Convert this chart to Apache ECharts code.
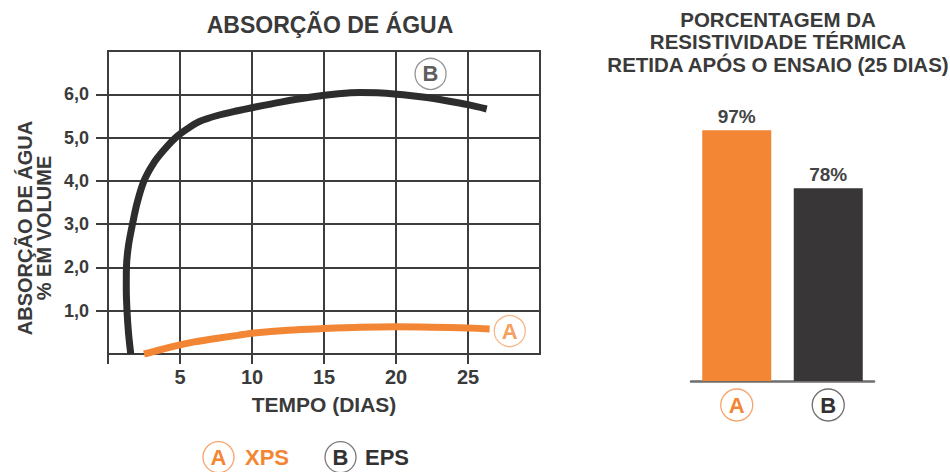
<!DOCTYPE html>
<html>
<head>
<meta charset="utf-8">
<script src="https://cdn.jsdelivr.net/npm/echarts@6/dist/echarts.min.js"></script>
<style>
  html, body { margin: 0; padding: 0; background: #ffffff; }
  #chart { width: 950px; height: 472px; }
</style>
</head>
<body>
<div id="chart"></div>
<script>
// Water absorption (% by volume) against time in days
const xpsDays = [2.5, 3.2, 4, 5, 6, 7.5, 9, 10, 12.5, 15, 17.5, 20, 22.5, 25, 26.5];
const xpsAbsorption = [0, 0.06, 0.13, 0.21, 0.28, 0.36, 0.43, 0.48, 0.55, 0.59, 0.62, 0.63, 0.62, 0.6, 0.58];
const epsDays = [1.58, 1.42, 1.32, 1.27, 1.28, 1.42, 1.7, 2.03, 2.5, 3.15, 3.85, 4.7, 5.5, 6.35, 7.6, 9, 10,
                 12, 14, 16, 17.5, 19, 20.5, 22, 23.5, 25, 26.3];
const epsAbsorption = [0, 0.5, 1.0, 1.5, 2.0, 2.5, 3.0, 3.5, 4.0, 4.4, 4.7, 5.0, 5.2, 5.37, 5.51, 5.62, 5.69,
                       5.82, 5.93, 6.01, 6.04, 6.03, 5.99, 5.93, 5.85, 5.76, 5.66];

// Circled letters tagging each curve
const tagLetters = ['A', 'B'];
const tagDays = [27.9, 22.4];
const tagValues = [0.53, 6.47];

// Axis ticks and their labels
const xTicks = [5, 10, 15, 20, 25];
const xTickLabels = ['5', '10', '15', '20', '25'];
const yTicks = [1, 2, 3, 4, 5, 6];
const yTickLabels = ['1,0', '2,0', '3,0', '4,0', '5,0', '6,0'];

// Thermal resistivity retained after 25 days
const materials = ['A', 'B'];
const retainedPct = [97, 78];

// Legend names
const seriesNames = ['XPS', 'EPS'];

const FONT = '"Liberation Sans", Arial, Helvetica, sans-serif';
const ORANGE = '#f28634';
const DARK = '#333132';
const GRID = '#3d3d3d';
const TEXT = '#3a3a3a';

const zip = (xs, ys) => xs.map((x, i) => [x, ys[i]]);
const lineSt = { color: GRID, width: 2 };

function circleStyle(border, color, d) {
  return {
    width: d, height: d, lineHeight: d, borderRadius: d / 2 + 1,
    borderWidth: 1.3, borderColor: border, color: color,
    fontSize: 22, fontWeight: 'bold', fontFamily: FONT, align: 'center'
  };
}

const chart = echarts.init(document.getElementById('chart'), null, { renderer: 'svg' });

const option = {
  animation: false,
  backgroundColor: '#ffffff',
  textStyle: { fontFamily: FONT },
  title: [
    {
      text: 'ABSORÇÃO DE ÁGUA', left: 330, top: 13, textAlign: 'center', padding: 0,
      textStyle: { fontSize: 23, fontWeight: 'bold', color: TEXT, fontFamily: FONT }
    },
    {
      text: 'PORCENTAGEM DA\nRESISTIVIDADE TÉRMICA\nRETIDA APÓS O ENSAIO (25 DIAS)',
      left: 778, top: 8, textAlign: 'center', padding: 0,
      textStyle: { fontSize: 20.5, fontWeight: 'bold', lineHeight: 22.5, color: TEXT, fontFamily: FONT }
    }
  ],
  legend: {
    data: seriesNames,
    left: 197, top: 441, padding: 0,
    itemWidth: 0, itemHeight: 0, itemGap: 30,
    itemStyle: { opacity: 0 }, lineStyle: { opacity: 0 },
    selectedMode: false,
    formatter: name => name === seriesNames[0] ? '{ca|A}{ta|' + name + '}' : '{cb|B}{tb|' + name + '}',
    textStyle: {
      rich: {
        ca: circleStyle('#f6a46c', ORANGE, 31),
        ta: { color: ORANGE, fontSize: 22, fontWeight: 'bold', fontFamily: FONT, padding: [0, 0, 0, 11] },
        cb: circleStyle('#7a7a7a', DARK, 31),
        tb: { color: DARK, fontSize: 22, fontWeight: 'bold', fontFamily: FONT, padding: [0, 0, 0, 9] }
      }
    }
  },
  grid: [
    { left: 108, top: 51, width: 432, height: 303, show: true, borderColor: GRID, borderWidth: 2 },
    { left: 691, top: 121, width: 183, height: 260 }
  ],
  xAxis: [
    {
      type: 'value', gridIndex: 0, min: 0, max: 30, interval: 5,
      name: 'TEMPO (DIAS)', nameLocation: 'middle', nameGap: 40,
      nameTextStyle: { fontSize: 21, fontWeight: 'bold', color: TEXT, fontFamily: FONT },
      axisLine: { show: true, lineStyle: lineSt },
      axisTick: { show: true, length: 10, customValues: [0].concat(xTicks), lineStyle: lineSt },
      axisLabel: {
        customValues: xTicks, margin: 13, fontSize: 20, fontWeight: 'bold', color: TEXT, fontFamily: FONT,
        formatter: v => { const i = xTicks.indexOf(v); return i < 0 ? '' : xTickLabels[i]; }
      },
      splitLine: { show: true, lineStyle: lineSt }
    },
    {
      type: 'category', gridIndex: 1, data: materials,
      axisLine: { show: true, lineStyle: { color: '#6e6e6e', width: 2.5 } },
      axisTick: { show: false },
      axisLabel: {
        margin: 8,
        formatter: v => v === materials[0] ? '{a|' + v + '}' : '{b|' + v + '}',
        rich: {
          a: circleStyle('#f6a46c', ORANGE, 32),
          b: circleStyle('#6e6e6e', DARK, 32)
        }
      }
    }
  ],
  yAxis: [
    {
      type: 'value', gridIndex: 0, min: 0, max: 7, interval: 1,
      axisLine: { show: true, lineStyle: lineSt },
      axisTick: { show: true, length: 12, customValues: yTicks, lineStyle: lineSt },
      axisLabel: {
        customValues: yTicks, margin: 19, fontSize: 18, fontWeight: 'bold', color: TEXT, fontFamily: FONT,
        formatter: v => { const i = yTicks.indexOf(v); return i < 0 ? '' : yTickLabels[i]; }
      },
      splitLine: { show: true, lineStyle: lineSt }
    },
    { type: 'value', gridIndex: 1, min: 15, max: 100, show: false }
  ],
  graphic: [
    {
      type: 'text', x: 34, y: 228, rotation: Math.PI / 2,
      style: {
        text: 'ABSORÇÃO DE ÁGUA\n% EM VOLUME',
        align: 'center', verticalAlign: 'middle', lineHeight: 19,
        font: 'bold 20px ' + FONT, fill: TEXT
      }
    }
  ],
  series: [
    {
      name: seriesNames[0], type: 'line', xAxisIndex: 0, yAxisIndex: 0,
      data: zip(xpsDays, xpsAbsorption), smooth: 0.3, showSymbol: false,
      lineStyle: { color: ORANGE, width: 7 }, itemStyle: { color: ORANGE }, z: 3
    },
    {
      name: seriesNames[1], type: 'line', xAxisIndex: 0, yAxisIndex: 0,
      data: zip(epsDays, epsAbsorption), smooth: 0.3, showSymbol: false,
      lineStyle: { color: '#2e2d2d', width: 7 }, itemStyle: { color: '#2e2d2d' }, z: 3
    },
    {
      name: 'tags', type: 'scatter', xAxisIndex: 0, yAxisIndex: 0, symbol: 'circle', symbolSize: 31, z: 4,
      data: tagLetters.map((t, i) => ({
        value: [tagDays[i], tagValues[i]],
        itemStyle: { color: '#ffffff', borderWidth: 1.3, borderColor: i === 0 ? '#f6a46c' : '#7a7a7a' },
        label: {
          show: true, position: 'inside', formatter: t,
          color: i === 0 ? ORANGE : DARK, fontSize: 22, fontWeight: 'bold', fontFamily: FONT
        }
      }))
    },
    {
      name: 'retained', type: 'bar', xAxisIndex: 1, yAxisIndex: 1, barWidth: 69,
      data: retainedPct.map((v, i) => ({ value: v, itemStyle: { color: i === 0 ? ORANGE : '#383637' } })),
      label: {
        show: true, position: 'top', distance: 4, formatter: '{c}%',
        fontSize: 19, fontWeight: 'bold', color: '#444444', fontFamily: FONT
      }
    }
  ]
};

chart.setOption(option);
</script>
</body>
</html>
